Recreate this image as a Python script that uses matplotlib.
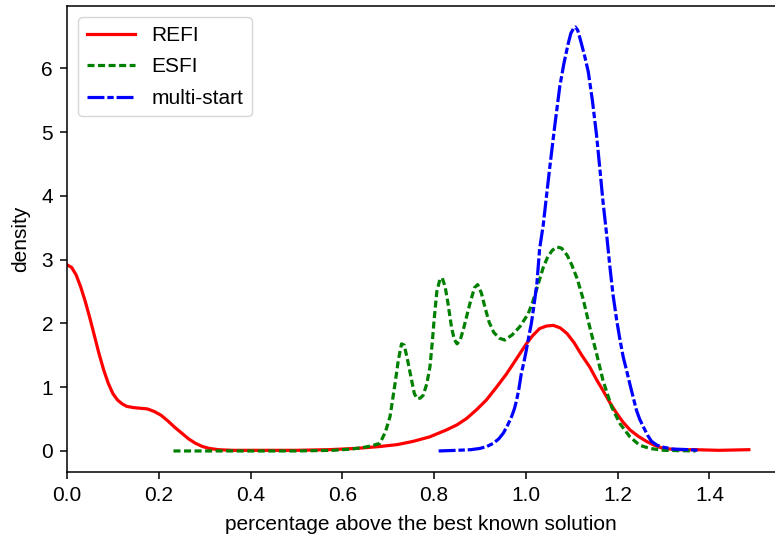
import numpy as np
import matplotlib
matplotlib.use("Agg")
import matplotlib.pyplot as plt

plt.rcParams['font.family'] = ['Liberation Sans', 'DejaVu Sans']
plt.rcParams['font.size'] = 15

# density curves
refi_x = [0.000, 0.010, 0.020, 0.030, 0.040, 0.050, 0.060, 0.070, 0.080, 0.090,
          0.100, 0.110, 0.120, 0.130, 0.145, 0.160, 0.175, 0.190, 0.205, 0.220,
          0.235, 0.250, 0.265, 0.280, 0.295, 0.310, 0.330, 0.360, 0.400, 0.500,
          0.570, 0.630, 0.682, 0.720, 0.754, 0.790, 0.827, 0.850, 0.871, 0.893,
          0.914, 0.936, 0.958, 0.980, 1.001, 1.015, 1.030, 1.045, 1.060, 1.075,
          1.090, 1.105, 1.122, 1.139, 1.154, 1.168, 1.183, 1.198, 1.212, 1.227,
          1.245, 1.263, 1.280, 1.299, 1.330, 1.370, 1.420, 1.486]
refi_y = [2.92, 2.88, 2.76, 2.57, 2.34, 2.08, 1.80, 1.52, 1.27, 1.06,
          0.90, 0.80, 0.74, 0.70, 0.68, 0.67, 0.66, 0.62, 0.56, 0.47,
          0.37, 0.28, 0.19, 0.12, 0.07, 0.04, 0.02, 0.01, 0.01, 0.01,
          0.02, 0.04, 0.07, 0.10, 0.15, 0.22, 0.33, 0.41, 0.51, 0.65,
          0.80, 1.00, 1.21, 1.45, 1.68, 1.81, 1.92, 1.96, 1.97, 1.93,
          1.84, 1.70, 1.50, 1.32, 1.12, 0.95, 0.76, 0.59, 0.45, 0.33,
          0.23, 0.15, 0.09, 0.04, 0.02, 0.02, 0.01, 0.02]

esfi_x = [0.232, 0.300, 0.400, 0.500, 0.580, 0.620, 0.650, 0.668, 0.682, 0.694,
          0.704, 0.715, 0.722, 0.729, 0.735, 0.743, 0.751, 0.757, 0.763, 0.770,
          0.776, 0.784, 0.791, 0.796, 0.800, 0.806, 0.813, 0.818, 0.824, 0.830,
          0.838, 0.844, 0.850, 0.857, 0.865, 0.878, 0.888, 0.895, 0.903, 0.911,
          0.920, 0.930, 0.942, 0.954, 0.970, 0.987, 1.005, 1.016, 1.027, 1.038,
          1.048, 1.058, 1.068, 1.078, 1.090, 1.100, 1.112, 1.125, 1.139, 1.154,
          1.168, 1.187, 1.205, 1.227, 1.248, 1.270, 1.300, 1.370]
esfi_y = [0.00, 0.00, 0.00, 0.00, 0.01, 0.03, 0.06, 0.09, 0.12, 0.30,
          0.54, 1.06, 1.42, 1.68, 1.66, 1.40, 1.11, 0.90, 0.82, 0.83,
          0.87, 1.05, 1.32, 1.70, 2.05, 2.50, 2.70, 2.71, 2.58, 2.33,
          1.94, 1.75, 1.68, 1.74, 1.94, 2.31, 2.56, 2.61, 2.48, 2.25,
          2.02, 1.86, 1.77, 1.74, 1.82, 1.95, 2.15, 2.36, 2.62, 2.88,
          3.05, 3.15, 3.20, 3.18, 3.07, 2.92, 2.70, 2.38, 1.95, 1.53,
          1.11, 0.69, 0.43, 0.22, 0.09, 0.04, 0.01, 0.00]

multi_x = [0.810, 0.850, 0.880, 0.900, 0.915, 0.929, 0.941, 0.951, 0.960, 0.969,
           0.975, 0.980, 0.985, 0.990, 0.996, 1.001, 1.006, 1.012, 1.018, 1.024,
           1.030, 1.038, 1.045, 1.052, 1.063, 1.074, 1.083, 1.092, 1.098, 1.104,
           1.108, 1.113, 1.120, 1.128, 1.136, 1.145, 1.154, 1.161, 1.168, 1.176,
           1.183, 1.190, 1.198, 1.205, 1.212, 1.220, 1.227, 1.234, 1.241, 1.248,
           1.256, 1.265, 1.274, 1.286, 1.299, 1.320, 1.357, 1.377]
multi_y = [0.00, 0.01, 0.02, 0.04, 0.07, 0.12, 0.19, 0.28, 0.40, 0.54,
           0.66, 0.80, 0.98, 1.21, 1.40, 1.58, 1.78, 2.00, 2.30, 2.62,
           3.17, 3.55, 4.00, 4.44, 5.10, 5.72, 6.08, 6.38, 6.55, 6.63,
           6.65, 6.60, 6.42, 6.20, 5.95, 5.50, 4.96, 4.45, 3.92, 3.40,
           2.90, 2.45, 2.05, 1.75, 1.48, 1.25, 1.04, 0.84, 0.64, 0.50,
           0.38, 0.25, 0.15, 0.09, 0.06, 0.03, 0.02, 0.01]

fig = plt.figure(figsize=(7.75, 5.42), dpi=100)
ax = fig.add_axes([67 / 775, 70 / 542, 1 - 67 / 775, 466 / 542])

lw = 2.3
ax.plot(refi_x, refi_y, color='red', lw=lw, label='REFI')
ax.plot(esfi_x, esfi_y, color='green', lw=lw, dashes=(2.2, 1.1), label='ESFI')
ax.plot(multi_x, multi_y, color='blue', lw=lw, dashes=(5.3, 0.9, 2.0, 0.9),
        label='multi-start')

ax.set_xlim(0, 1.543)
ax.set_ylim(-0.33, 6.98)
ax.set_xticks(np.arange(0, 1.41, 0.2))
ax.set_yticks(range(0, 7))
ax.tick_params(length=5, width=1.1, pad=5)
for side in ['left', 'bottom', 'top']:
    ax.spines[side].set_linewidth(1.1)
ax.spines['right'].set_visible(False)
ax.set_xlabel('percentage above the best known solution', labelpad=7)
ax.set_ylabel('density', labelpad=8)
ax.legend(loc='upper left', handlelength=2.3, labelspacing=0.6,
          borderaxespad=0.55)

fig.savefig('out.png', dpi=100)
